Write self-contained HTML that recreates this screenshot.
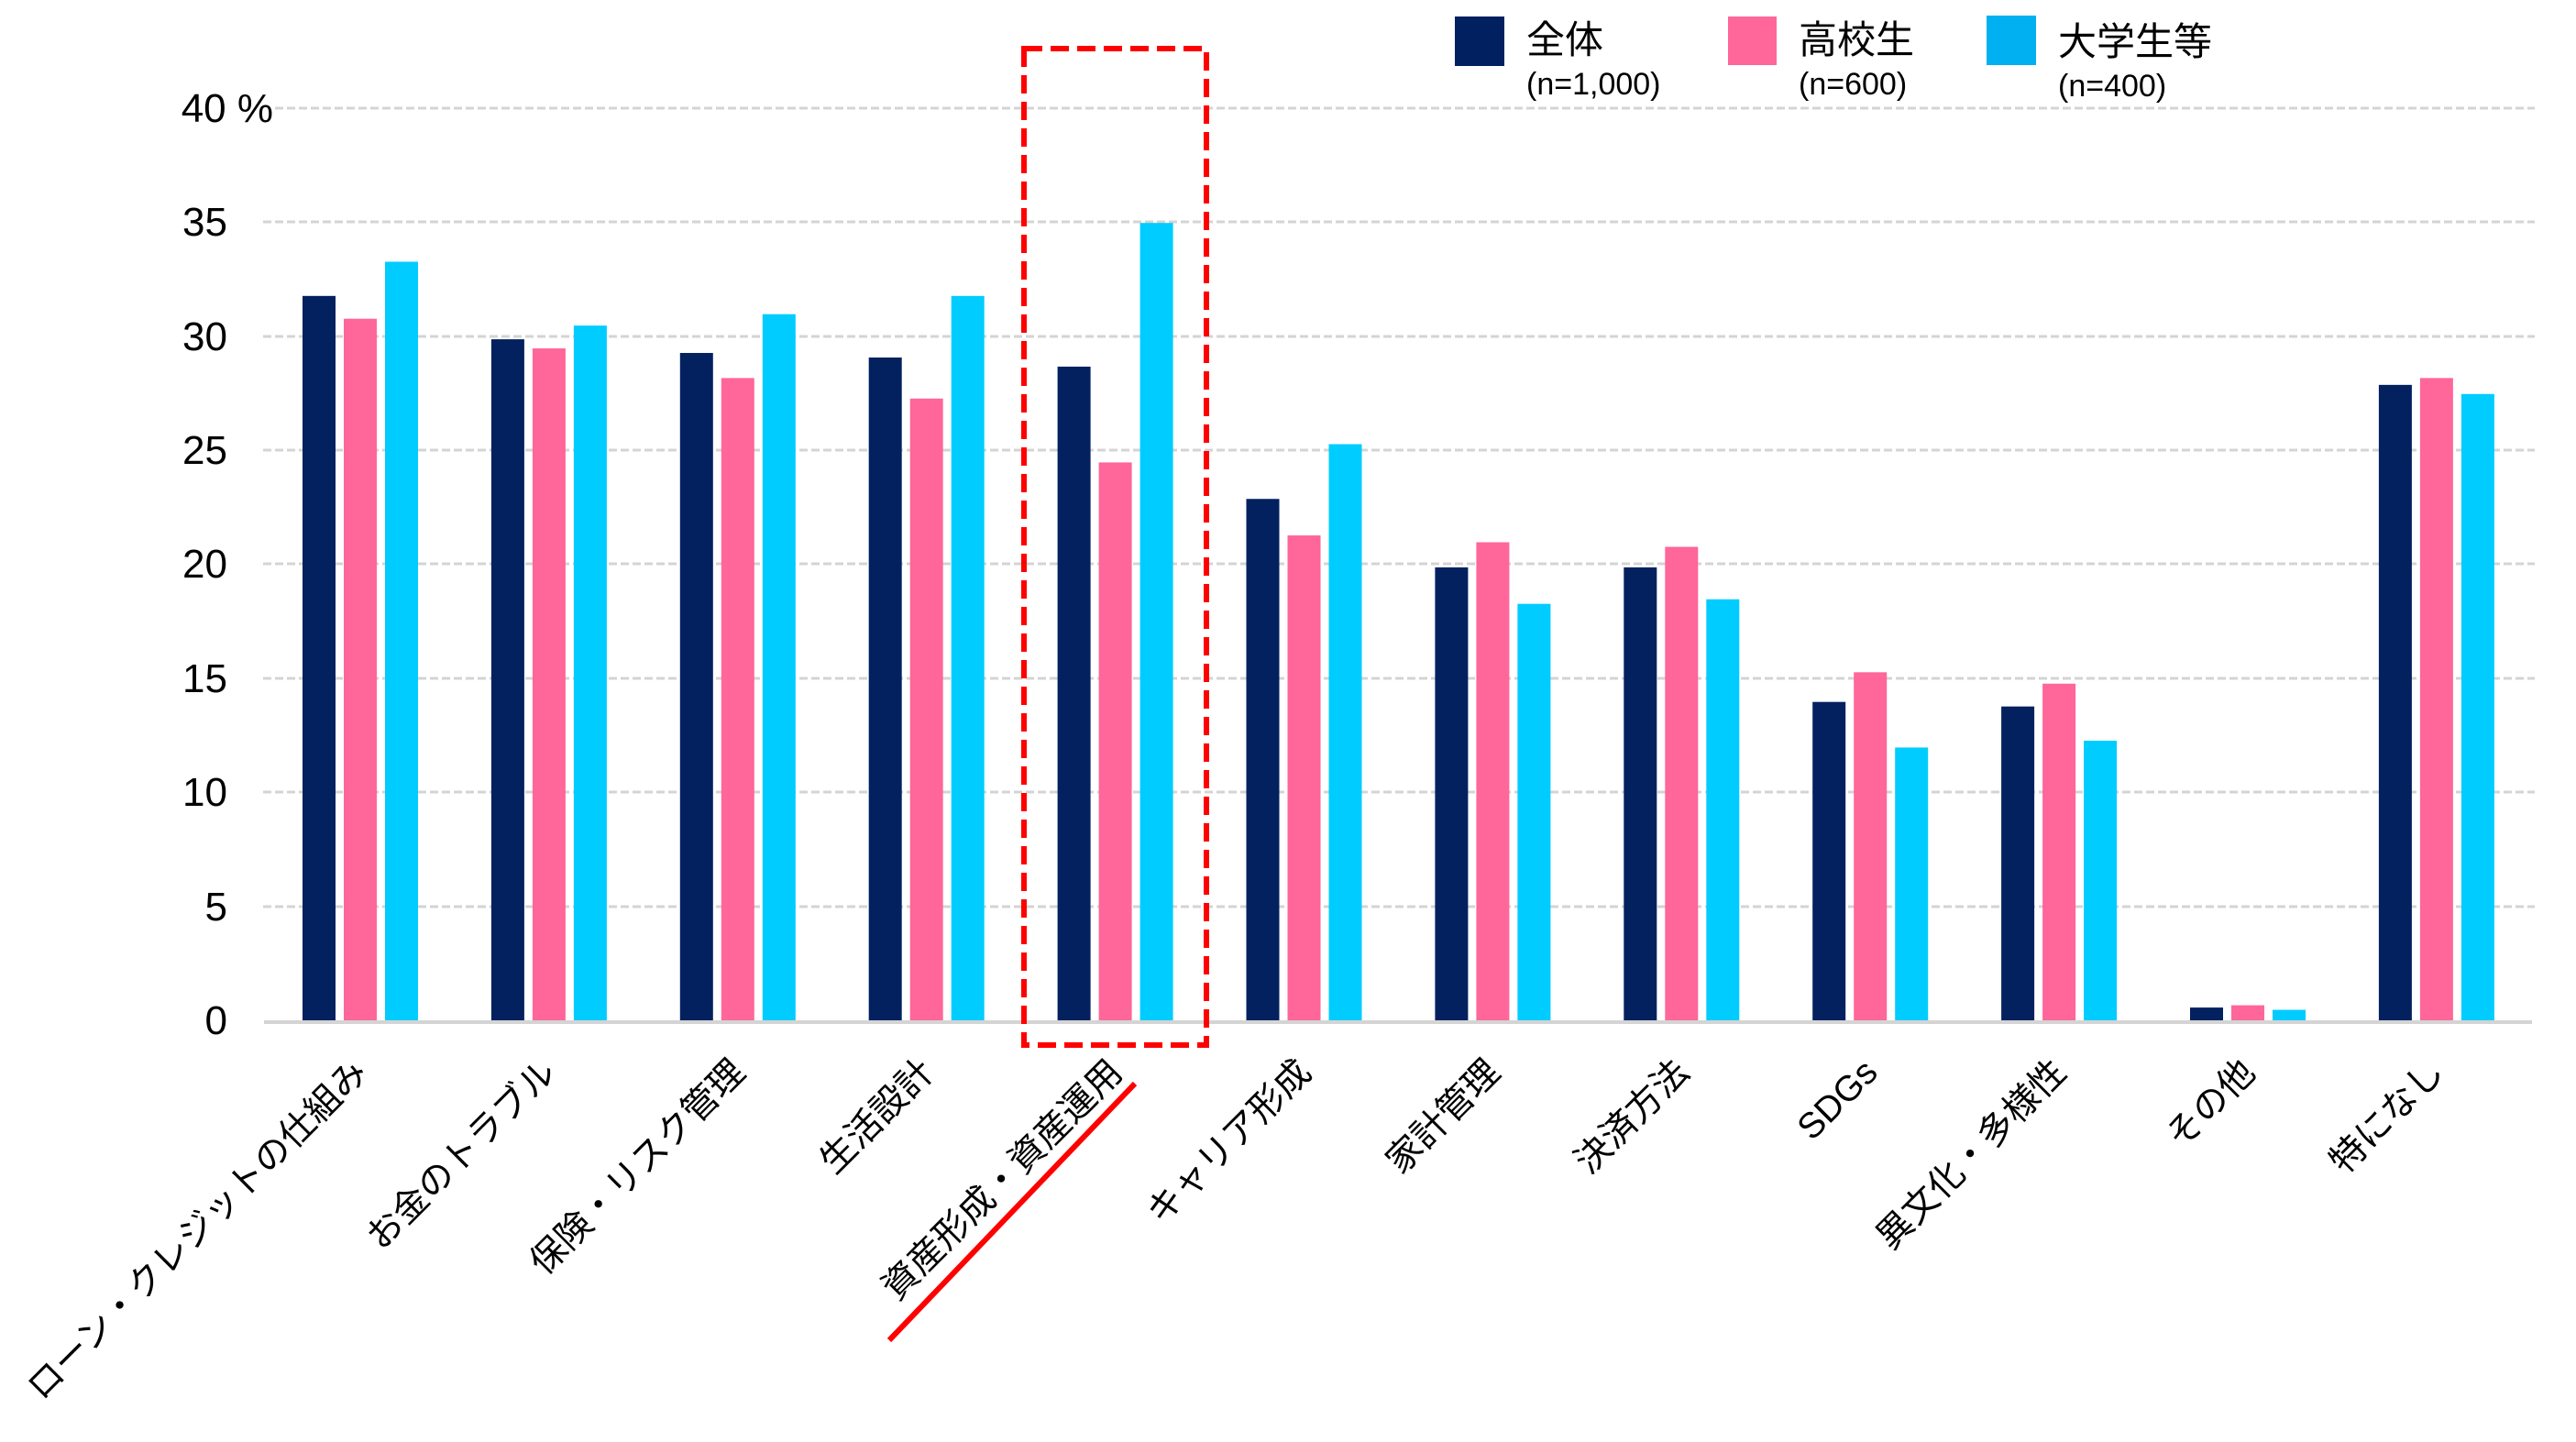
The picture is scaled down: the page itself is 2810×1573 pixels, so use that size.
<!DOCTYPE html>
<html><head><meta charset="utf-8"><style>
html,body{margin:0;padding:0;background:#fff;}
svg{display:block;}
text{font-family:"Liberation Sans","Noto Sans CJK JP",sans-serif;fill:#000;}
</style></head><body>
<svg width="2810" height="1573" viewBox="0 0 2810 1573" xmlns="http://www.w3.org/2000/svg">
<g stroke="#d4d4d4" stroke-width="3" stroke-dasharray="9,4">
<line x1="300" y1="118" x2="2765" y2="118"/>
<line x1="287" y1="242" x2="2765" y2="242"/>
<line x1="287" y1="367" x2="2765" y2="367"/>
<line x1="287" y1="491" x2="2765" y2="491"/>
<line x1="287" y1="615" x2="2765" y2="615"/>
<line x1="287" y1="740" x2="2765" y2="740"/>
<line x1="287" y1="864" x2="2765" y2="864"/>
<line x1="287" y1="989" x2="2765" y2="989"/>
</g>
<g font-size="44" text-anchor="end">
<text x="298" y="133">40 %</text>
<text x="248" y="257">35</text>
<text x="248" y="382">30</text>
<text x="248" y="506">25</text>
<text x="248" y="630">20</text>
<text x="248" y="755">15</text>
<text x="248" y="879">10</text>
<text x="248" y="1004">5</text>
<text x="248" y="1128">0</text>
</g>
<g id="bars"></g>
<line x1="288" y1="1115" x2="2762" y2="1115" stroke="#d4d4d4" stroke-width="4"/>
<rect x="1117" y="53" width="199" height="1087" fill="none" stroke="#ff0000" stroke-width="6" stroke-dasharray="20,9"/>
<line x1="970" y1="1462" x2="1238" y2="1182" stroke="#ff0000" stroke-width="6"/>
<g id="labels" font-size="39" text-anchor="end"></g>
<rect x="1587" y="18" width="54" height="54" fill="#002060"/>
<rect x="1885" y="18" width="53" height="53" fill="#ff6699"/>
<rect x="2167" y="17" width="54" height="54" fill="#00b0f0"/>
<g font-size="42">
<text x="1665" y="58">全体</text>
<text x="1962" y="58">高校生</text>
<text x="2245" y="60">大学生等</text>
</g>
<g font-size="34">
<text x="1665" y="103">(n=1,000)</text>
<text x="1962" y="103">(n=600)</text>
<text x="2245" y="105">(n=400)</text>
</g>
</svg>
<script>
var data=[[31.8,30.8,33.3],[29.9,29.5,30.5],[29.3,28.2,31.0],[29.1,27.3,31.8],[28.7,24.5,35.0],[22.9,21.3,25.3],[19.9,21.0,18.3],[19.9,20.8,18.5],[14.0,15.3,12.0],[13.8,14.8,12.3],[0.6,0.7,0.5],[27.9,28.2,27.5]];
var names=["ローン・クレジットの仕組み","お金のトラブル","保険・リスク管理","生活設計","資産形成・資産運用","キャリア形成","家計管理","決済方法","SDGs","異文化・多様性","その他","特になし"];
var cols=["#03215f","#ff6699","#00ccff"];
var ns="http://www.w3.org/2000/svg";
var g=document.getElementById("bars"),lg=document.getElementById("labels");
for(var i=0;i<12;i++){var c=393+i*205.9;
for(var j=0;j<3;j++){var r=document.createElementNS(ns,"rect");var h=data[i][j]*24.88;
r.setAttribute("x",c-18+(j-1)*45);r.setAttribute("y",1114-h);r.setAttribute("width",36);r.setAttribute("height",h);r.setAttribute("fill",cols[j]);g.appendChild(r);}
var t=document.createElementNS(ns,"text");t.setAttribute("transform","translate("+(c+10)+",1172) rotate(-45)");t.textContent=names[i];lg.appendChild(t);}
</script>
</body></html>
